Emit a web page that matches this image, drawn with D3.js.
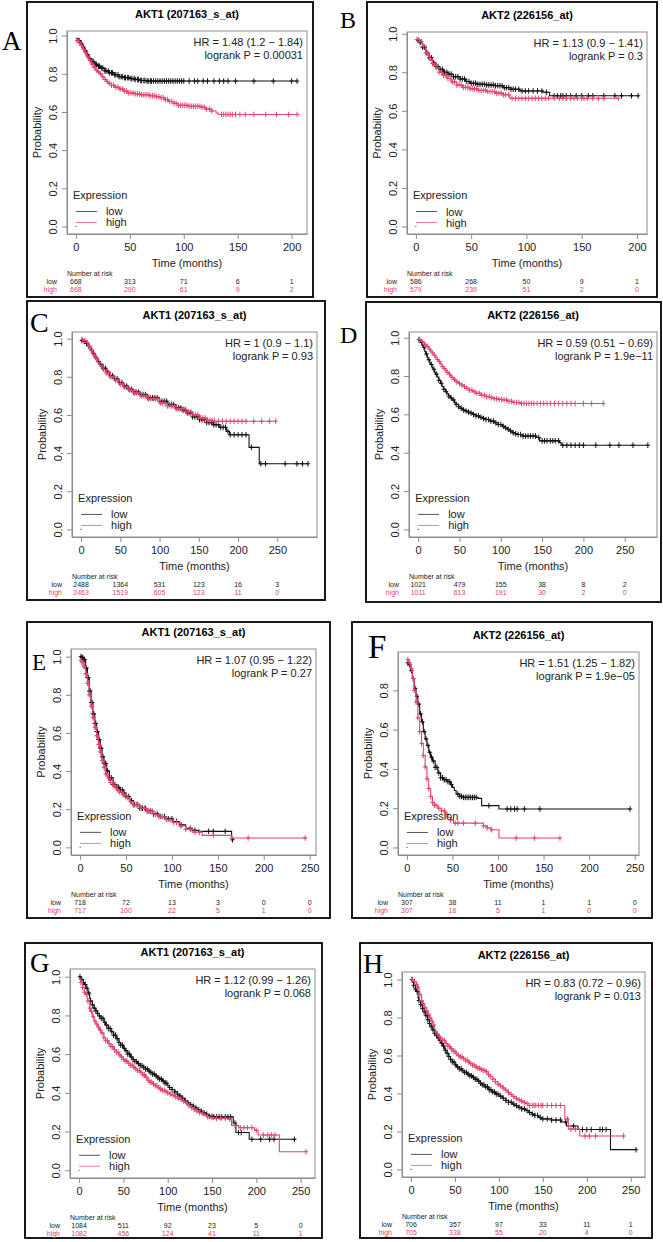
<!DOCTYPE html>
<html>
<head>
<meta charset="utf-8">
<script src="https://cdn.jsdelivr.net/npm/d3@7"></script>
<style>
  body { margin: 0; background: #fff; }
  svg { display: block; font-family: "Liberation Sans", Arial, sans-serif; }
</style>
</head>
<body>
<svg id="fig" width="663" height="1242"></svg>
<script>
// ---- shared labels / ticks ----
const akt1Title = 'AKT1 (207163_s_at)';
const akt2Title = 'AKT2 (226156_at)';
const ticks200 = [0, 50, 100, 150, 200];
const ticks250 = [0, 50, 100, 150, 200, 250];
const probTicks = [0, 0.2, 0.4, 0.6, 0.8, 1];
const probTicksShort = [0, 0.2, 0.4, 0.6, 0.8];

// ---- A ----
const aLow = [[0,0.985],[2,0.975],[4,0.96],[6,0.94],[8,0.92],[10,0.9],[12,0.88],[14,0.865],[17,0.85],[20,0.84],[23,0.83],[27,0.815],[31,0.805],[35,0.795],[40,0.785],[45,0.78],[50,0.775],[55,0.77],[60,0.765],[66,0.762],[205,0.762]];
const aHigh = [[0,0.975],[2,0.965],[4,0.95],[6,0.93],[8,0.91],[10,0.89],[12,0.87],[14,0.85],[16,0.835],[18,0.82],[20,0.81],[22,0.8],[24,0.785],[26,0.77],[28,0.76],[30,0.75],[33,0.74],[36,0.73],[40,0.72],[44,0.71],[48,0.7],[54,0.695],[60,0.69],[68,0.685],[74,0.68],[78,0.675],[82,0.665],[86,0.655],[91,0.645],[95,0.635],[104,0.63],[116,0.625],[120,0.615],[126,0.605],[130,0.595],[132,0.587],[206,0.587]];
const aLowCens = [3,5,7,9,11,13,15,16,18,19,21,22,24,25,27,28,30,31,33,34,36,37,39,40,42,43,45,46,48,49,51,52,54,55,57,58,60,61,63,64,66,67,69,70,72,74,76,78,80,82,84,86,88,90,92,94,96,98,100,105,110,113,118,122,128,133,137,141,148,165,183,200,205];
const aHighCens = [1,3,5,7,9,11,13,15,17,19,21,23,25,27,29,31,33,35,37,39,41,43,45,47,49,51,53,55,57,59,61,63,65,67,69,71,73,75,77,79,81,83,85,87,89,91,93,95,97,99,101,103,105,107,109,111,113,115,117,119,121,124,126,135,137,139,141,143,145,148,152,157,165,176,186,197,205];
const aRiskLow = [668, 313, 71, 6, 1];
const aRiskHigh = [668, 290, 61, 9, 2];

// ---- B ----
const bLow = [[0,0.966],[3,0.955],[6,0.93],[9,0.9],[12,0.875],[15,0.85],[18,0.83],[21,0.815],[25,0.8],[29,0.79],[34,0.777],[40,0.765],[45,0.752],[49,0.743],[55,0.738],[64,0.734],[72,0.73],[79,0.72],[86,0.712],[94,0.703],[115,0.696],[121,0.678],[201,0.678]];
const bHigh = [[0,0.97],[3,0.96],[6,0.935],[9,0.9],[12,0.87],[15,0.845],[18,0.825],[21,0.8],[24,0.785],[28,0.768],[32,0.75],[37,0.734],[42,0.722],[49,0.714],[56,0.706],[64,0.7],[72,0.692],[79,0.683],[85,0.665],[183,0.665]];
const bLowCens = [2,4,6,8,10,12,14,16,18,20,22,24,26,28,30,32,34,36,38,40,42,44,46,48,50,52,54,56,58,60,62,64,66,68,70,72,74,76,78,80,82,84,86,88,90,93,96,99,102,106,110,114,118,125,128,131,133,136,140,145,150,156,160,170,180,186,195,201];
const bHighCens = [1,3,5,7,9,11,13,15,17,19,21,23,25,27,29,31,33,35,37,39,41,43,45,47,49,51,53,55,57,59,61,63,65,67,69,71,73,75,77,79,81,84,87,90,93,96,99,102,105,108,111,114,117,120,125,130,133,136,140,143,146,150,152,155,160,165,170,183];
const bRiskLow = [586, 268, 50, 9, 1];
const bRiskHigh = [579, 239, 51, 2, 0];

// ---- C ----
const cLow = [[0,0.99],[3,0.985],[6,0.975],[9,0.96],[12,0.94],[15,0.92],[18,0.9],[21,0.88],[24,0.865],[28,0.845],[32,0.825],[37,0.805],[42,0.79],[48,0.77],[54,0.751],[60,0.735],[67,0.72],[75,0.707],[85,0.69],[100,0.672],[110,0.655],[121,0.637],[128,0.625],[134,0.61],[142,0.59],[151,0.575],[160,0.56],[168,0.549],[176,0.535],[185,0.514],[189,0.496],[214,0.43],[227,0.344],[289,0.344]];
const cHigh = [[0,0.995],[3,0.99],[6,0.98],[9,0.96],[12,0.94],[15,0.915],[18,0.895],[21,0.875],[24,0.858],[28,0.838],[32,0.82],[37,0.8],[42,0.782],[48,0.762],[54,0.745],[60,0.73],[67,0.715],[75,0.7],[85,0.685],[100,0.662],[110,0.647],[121,0.632],[134,0.617],[142,0.6],[151,0.584],[160,0.572],[168,0.567],[248,0.567]];
const cLowCens = [1,4,7,10,13,16,19,22,25,28,31,34,37,40,43,46,49,52,55,58,61,64,67,70,73,76,79,82,85,88,91,94,97,100,103,106,109,112,115,118,121,124,127,130,133,136,139,142,145,148,151,154,157,160,163,166,169,172,175,178,181,184,187,190,195,200,205,210,217,229,235,260,275,282,289];
const cHighCens = [2,5,8,11,14,17,20,23,26,29,32,35,38,41,44,47,50,53,56,59,62,65,68,71,74,77,80,83,86,89,92,95,98,101,104,107,110,113,116,119,122,125,128,131,134,137,140,143,146,149,152,155,158,161,164,167,170,175,180,185,190,195,200,205,210,220,230,240,248];
const cRiskLow = [2488, 1364, 531, 123, 16, 3];
const cRiskHigh = [2463, 1519, 605, 123, 11, 0];

// ---- D ----
const dLow = [[0,0.99],[2,0.982],[3,0.975],[5,0.96],[6,0.95],[8,0.928],[9,0.915],[11,0.895],[12,0.885],[14,0.868],[15,0.86],[17,0.843],[18,0.835],[20,0.818],[21,0.81],[23,0.794],[25,0.778],[27,0.762],[29,0.745],[31,0.731],[33,0.718],[35,0.706],[37,0.695],[39,0.685],[41,0.675],[44,0.661],[46,0.652],[49,0.64],[51,0.632],[54,0.623],[56,0.618],[59,0.612],[62,0.607],[66,0.6],[70,0.592],[74,0.585],[78,0.579],[82,0.573],[87,0.565],[92,0.556],[97,0.547],[102,0.538],[105,0.53],[108,0.522],[111,0.513],[114,0.504],[117,0.499],[120,0.495],[126,0.487],[143,0.479],[147,0.462],[171,0.453],[173,0.439],[278,0.439]];
const dHigh = [[0,0.99],[4,0.98],[6,0.973],[8,0.965],[10,0.955],[13,0.94],[15,0.93],[17,0.92],[19,0.908],[21,0.897],[23,0.886],[25,0.875],[27,0.862],[29,0.85],[31,0.839],[33,0.829],[35,0.82],[37,0.81],[39,0.801],[41,0.792],[43,0.783],[45,0.775],[47,0.768],[49,0.761],[52,0.753],[55,0.745],[58,0.736],[62,0.726],[66,0.718],[70,0.71],[76,0.7],[82,0.692],[87,0.687],[92,0.682],[97,0.678],[102,0.675],[108,0.668],[114,0.662],[125,0.657],[224,0.657]];
const dLowCens = [1,4,7,10,13,16,19,22,25,28,31,34,37,40,43,46,49,52,55,58,61,64,67,70,73,76,79,82,85,88,91,94,97,100,103,106,109,112,115,118,121,124,127,130,133,136,139,142,146,150,153,156,160,163,166,170,175,180,185,190,195,200,215,232,243,260,278];
const dHighCens = [2,5,8,11,14,17,20,23,26,29,32,35,38,41,44,47,50,53,56,59,62,65,68,71,74,77,80,83,86,89,92,95,98,101,104,107,110,113,116,119,122,125,128,131,134,137,140,144,148,152,156,160,165,170,175,180,185,190,200,210,224];
const dRiskLow = [1021, 479, 155, 38, 8, 2];
const dRiskHigh = [1011, 613, 191, 30, 2, 0];

// ---- E ----
const eLow = [[0,1],[2,0.995],[4,0.985],[6,0.94],[8,0.89],[10,0.82],[12,0.76],[14,0.7],[16,0.65],[18,0.607],[20,0.565],[22,0.52],[24,0.475],[26,0.44],[29,0.4],[32,0.365],[36,0.33],[40,0.315],[43,0.302],[47,0.285],[50,0.267],[54,0.245],[58,0.225],[65,0.205],[72,0.19],[80,0.175],[86,0.162],[93,0.15],[101,0.136],[108,0.118],[115,0.1],[122,0.09],[129,0.084],[165,0.04],[167,0.04]];
const eHigh = [[0,0.98],[2,0.97],[4,0.95],[6,0.91],[8,0.86],[10,0.8],[12,0.74],[14,0.68],[16,0.63],[18,0.585],[20,0.54],[22,0.5],[24,0.455],[26,0.42],[28,0.385],[30,0.363],[33,0.34],[36,0.32],[40,0.3],[43,0.29],[47,0.275],[50,0.26],[54,0.24],[58,0.222],[65,0.205],[72,0.19],[80,0.172],[86,0.16],[93,0.145],[101,0.13],[108,0.112],[115,0.095],[122,0.08],[133,0.063],[165,0.049],[247,0.049]];
const eLowCens = [1,2,3,4,5,6,7,8,9,10,11,12,13,14,15,16,17,18,19,20,21,22,23,24,25,26,27,28,29,30,32,34,36,38,40,42,44,46,48,50,53,56,59,62,65,68,71,74,77,80,84,88,92,96,100,105,110,120,125,140,145,158,166];
const eHighCens = [1,2,3,4,5,6,7,8,9,10,11,12,13,14,15,16,17,18,19,20,21,22,23,24,25,26,27,28,29,31,33,35,37,39,41,43,45,47,49,52,55,58,61,64,67,70,73,76,79,82,86,90,94,98,102,105,110,115,120,125,130,145,165,183,245];
const eRiskLow = [718, 72, 13, 3, 0, 0];
const eRiskHigh = [717, 100, 22, 5, 1, 0];

// ---- F ----
const fLow = [[0,0.94],[2,0.93],[4,0.9],[6,0.86],[8,0.81],[10,0.77],[12,0.73],[14,0.68],[16,0.64],[18,0.59],[20,0.553],[22,0.52],[24,0.485],[26,0.46],[28,0.44],[31,0.408],[34,0.38],[37,0.355],[40,0.345],[45,0.335],[48,0.32],[50,0.306],[52,0.29],[54,0.272],[58,0.26],[62,0.255],[78,0.25],[82,0.213],[101,0.196],[245,0.196]];
const fHigh = [[0,0.957],[2,0.94],[4,0.91],[6,0.86],[8,0.8],[10,0.74],[12,0.66],[14,0.59],[16,0.53],[18,0.468],[20,0.41],[22,0.349],[24,0.3],[26,0.26],[28,0.23],[30,0.215],[34,0.2],[38,0.187],[42,0.17],[45,0.153],[48,0.14],[51,0.124],[84,0.11],[88,0.1],[92,0.09],[101,0.048],[168,0.048]];
const fLowCens = [1,3,5,7,9,11,13,15,17,19,21,23,25,27,29,31,33,35,37,39,41,43,45,47,49,56,58,60,62,64,66,68,70,72,74,76,90,110,114,118,121,129,146,245];
const fHighCens = [1,3,5,7,8,10,12,14,16,18,20,22,24,26,28,30,32,35,38,41,44,48,53,56,62,75,84,88,93,120,140,168];
const fRiskLow = [307, 38, 11, 1, 1, 0];
const fRiskHigh = [307, 16, 5, 1, 0, 0];

// ---- G ----
const gLow = [[0,1],[2,0.99],[3,0.985],[5,0.97],[6,0.96],[8,0.94],[10,0.916],[12,0.888],[13,0.875],[15,0.855],[17,0.838],[19,0.823],[21,0.81],[23,0.797],[25,0.785],[28,0.765],[30,0.75],[33,0.733],[36,0.716],[39,0.698],[42,0.68],[45,0.66],[47,0.646],[50,0.63],[52,0.618],[55,0.6],[58,0.585],[61,0.572],[63,0.562],[66,0.551],[69,0.541],[72,0.532],[75,0.523],[78,0.513],[80,0.506],[83,0.497],[86,0.488],[89,0.478],[91,0.471],[94,0.461],[97,0.45],[100,0.437],[102,0.428],[105,0.417],[108,0.405],[111,0.393],[113,0.384],[116,0.372],[119,0.36],[122,0.348],[124,0.34],[127,0.331],[130,0.322],[133,0.313],[136,0.305],[139,0.297],[142,0.29],[145,0.283],[147,0.279],[152,0.276],[174,0.244],[177,0.195],[192,0.16],[244,0.16]];
const gHigh = [[0,0.99],[2,0.97],[4,0.944],[6,0.92],[7,0.91],[9,0.886],[10,0.874],[12,0.838],[13,0.82],[15,0.793],[17,0.77],[19,0.755],[21,0.74],[23,0.724],[25,0.709],[28,0.685],[30,0.67],[33,0.654],[36,0.639],[39,0.624],[42,0.61],[45,0.596],[47,0.586],[50,0.573],[52,0.565],[55,0.553],[58,0.543],[61,0.532],[63,0.525],[66,0.515],[69,0.506],[72,0.493],[75,0.48],[78,0.465],[80,0.455],[83,0.446],[86,0.437],[89,0.427],[91,0.42],[94,0.413],[97,0.407],[100,0.4],[102,0.394],[105,0.387],[108,0.38],[111,0.373],[113,0.367],[116,0.358],[119,0.35],[122,0.34],[124,0.333],[127,0.324],[130,0.315],[133,0.306],[136,0.298],[139,0.291],[142,0.285],[145,0.277],[147,0.272],[152,0.268],[169,0.264],[172,0.232],[180,0.22],[198,0.206],[202,0.182],[226,0.096],[256,0.096]];
const gLowCens = [1,3,5,7,9,11,13,15,17,19,21,23,25,27,29,31,33,35,37,39,41,43,45,47,49,51,53,55,57,59,61,63,65,67,69,71,73,75,77,79,81,83,85,87,89,91,93,95,97,99,102,105,108,111,114,117,120,123,126,129,132,135,138,141,144,147,150,152,155,158,161,165,168,171,176,180,183,195,205,215,220,243];
const gHighCens = [2,4,6,8,10,12,14,16,18,20,22,24,26,28,30,32,34,36,38,40,42,44,46,48,50,52,54,56,58,60,62,64,66,68,70,72,74,76,78,80,82,84,86,88,90,92,94,96,98,100,103,106,109,112,115,118,121,124,127,130,133,136,140,145,150,155,160,165,170,176,182,186,190,195,200,208,213,217,221,256];
const gRiskLow = [1084, 511, 92, 23, 5, 0];
const gRiskHigh = [1082, 456, 124, 41, 11, 1];

// ---- H ----
const hLow = [[0,1],[2,0.985],[3,0.97],[5,0.95],[6,0.937],[8,0.905],[9,0.89],[11,0.868],[13,0.848],[15,0.83],[17,0.81],[19,0.789],[21,0.769],[23,0.752],[25,0.735],[27,0.716],[28,0.707],[30,0.693],[32,0.68],[34,0.665],[36,0.65],[38,0.635],[39,0.628],[41,0.612],[43,0.595],[45,0.58],[47,0.566],[50,0.55],[52,0.54],[55,0.53],[58,0.52],[61,0.511],[64,0.502],[67,0.493],[70,0.485],[73,0.475],[76,0.465],[79,0.454],[81,0.446],[84,0.435],[88,0.42],[92,0.408],[96,0.397],[100,0.386],[104,0.375],[108,0.363],[111,0.354],[115,0.344],[118,0.336],[122,0.327],[126,0.319],[130,0.31],[134,0.3],[138,0.291],[141,0.284],[145,0.274],[148,0.266],[160,0.26],[171,0.25],[177,0.229],[190,0.21],[227,0.104],[256,0.104]];
const hHigh = [[0,1],[4,0.99],[6,0.975],[7.5,0.96],[9,0.94],[10,0.92],[12,0.89],[13,0.873],[15,0.853],[17,0.835],[19,0.817],[21,0.799],[23,0.78],[25,0.76],[27,0.737],[28,0.725],[30,0.712],[32,0.7],[34,0.69],[36,0.68],[39,0.663],[42,0.648],[45,0.635],[48,0.622],[51,0.61],[54,0.6],[56,0.593],[59,0.584],[62,0.575],[65,0.565],[67,0.558],[70,0.549],[73,0.54],[76,0.533],[79,0.527],[82,0.521],[85,0.515],[88,0.5],[90,0.49],[93,0.476],[96,0.462],[99,0.449],[101,0.44],[104,0.429],[107,0.418],[110,0.405],[112,0.395],[115,0.384],[118,0.374],[121,0.367],[124,0.36],[127,0.353],[130,0.347],[133,0.337],[175,0.266],[179,0.212],[192,0.176],[242,0.176]];
const hLowCens = [1,3,5,7,9,11,13,15,17,19,21,23,25,27,29,31,33,35,37,39,41,43,45,47,49,51,53,55,57,59,61,63,65,67,69,71,73,75,77,79,81,83,85,87,89,91,93,95,97,99,102,105,108,111,114,117,120,123,126,129,132,135,138,141,144,147,150,155,160,165,170,176,185,195,200,205,215,218,222,256];
const hHighCens = [2,4,6,8,10,12,14,16,18,20,22,24,26,28,30,32,34,36,38,40,42,44,46,48,50,52,54,56,58,60,62,64,66,68,70,72,74,76,78,80,82,84,86,88,90,93,96,99,102,105,108,111,114,117,120,123,126,129,132,135,138,140,142,145,148,150,155,160,165,170,178,182,187,198,203,210,242];
const hRiskLow = [706, 357, 97, 33, 11, 1];
const hRiskHigh = [705, 338, 55, 20, 4, 0];

// ---- panel table: data refs + layout (frame / plot box / letter) ----
const panels = [
  { letter: 'A', letterPos: [2, 50, 27], frame: [27, 2, 313, 297], plot: [67, 31, 307, 234],
    title: akt1Title, hr: 'HR = 1.48 (1.2 \u2212 1.84)', p: 'logrank P = 0.00031',
    xTicks: ticks200, yTicks: probTicks, low: aLow, high: aHigh, lowCens: aLowCens, highCens: aHighCens, riskLow: aRiskLow, riskHigh: aRiskHigh },
  { letter: 'B', letterPos: [340, 28, 24], frame: [367, 2, 657, 297], plot: [407, 32, 647, 234],
    title: akt2Title, hr: 'HR = 1.13 (0.9 \u2212 1.41)', p: 'logrank P = 0.3',
    xTicks: ticks200, yTicks: probTicks, low: bLow, high: bHigh, lowCens: bLowCens, highCens: bHighCens, riskLow: bRiskLow, riskHigh: bRiskHigh },
  { letter: 'C', letterPos: [30, 332, 28], frame: [27, 301, 325, 600], plot: [72, 332, 317, 537],
    title: akt1Title, hr: 'HR = 1 (0.9 \u2212 1.1)', p: 'logrank P = 0.93',
    xTicks: ticks250, yTicks: probTicks, low: cLow, high: cHigh, lowCens: cLowCens, highCens: cHighCens, riskLow: cRiskLow, riskHigh: cRiskHigh },
  { letter: 'D', letterPos: [340, 343, 24], frame: [366, 302, 661, 602], plot: [409, 332, 657, 537],
    title: akt2Title, hr: 'HR = 0.59 (0.51 \u2212 0.69)', p: 'logrank P = 1.9e\u221211',
    xTicks: ticks250, yTicks: probTicks, low: dLow, high: dHigh, lowCens: dLowCens, highCens: dHighCens, riskLow: dRiskLow, riskHigh: dRiskHigh },
  { letter: 'E', letterPos: [32, 670, 23], frame: [27, 622, 330, 918], plot: [71, 649, 316, 855],
    title: akt1Title, hr: 'HR = 1.07 (0.95 \u2212 1.22)', p: 'logrank P = 0.27',
    xTicks: ticks250, yTicks: probTicks, low: eLow, high: eHigh, lowCens: eLowCens, highCens: eHighCens, riskLow: eRiskLow, riskHigh: eRiskHigh },
  { letter: 'F', letterPos: [368, 658, 33], frame: [352, 622, 652, 918], plot: [398, 652, 639, 855],
    title: akt2Title, hr: 'HR = 1.51 (1.25 \u2212 1.82)', p: 'logrank P = 1.9e\u221205',
    xTicks: ticks250, yTicks: probTicksShort, low: fLow, high: fHigh, lowCens: fLowCens, highCens: fHighCens, riskLow: fRiskLow, riskHigh: fRiskHigh },
  { letter: 'G', letterPos: [30, 972, 27], frame: [25, 943, 322, 1238], plot: [70, 969, 315, 1178],
    title: akt1Title, hr: 'HR = 1.12 (0.99 \u2212 1.26)', p: 'logrank P = 0.068',
    xTicks: ticks250, yTicks: probTicks, low: gLow, high: gHigh, lowCens: gLowCens, highCens: gHighCens, riskLow: gRiskLow, riskHigh: gRiskHigh },
  { letter: 'H', letterPos: [363, 973, 28], frame: [360, 943, 652, 1238], plot: [402, 972, 645, 1177],
    title: akt2Title, hr: 'HR = 0.83 (0.72 \u2212 0.96)', p: 'logrank P = 0.013',
    xTicks: ticks250, yTicks: probTicks, low: hLow, high: hHigh, lowCens: hLowCens, highCens: hHighCens, riskLow: hRiskLow, riskHigh: hRiskHigh }
];

const RED = '#e4456d';
const BLACK = '#111';
const AXIS_GREY = '#8c8c8c';

const svg = d3.select('#fig');
svg.append('rect').attr('width', 663).attr('height', 1242).attr('fill', '#fff');

panels.forEach(drawPanel);

function drawPanel(p) {
  const [L, T, R, B] = p.plot;
  // R-style 4% padding around the data range, y always includes 0
  const tMax = d3.max([p.low, p.high], s => s[s.length - 1][0]);
  const sMax = d3.max([p.low, p.high], s => s[0][1]);
  const x = d3.scaleLinear().domain([-0.04 * tMax, 1.04 * tMax]).range([L, R]);
  const y = d3.scaleLinear().domain([-0.04 * sMax, 1.04 * sMax]).range([B, T]);

  const g = svg.append('g');

  // outer frame
  const [fl, ft, fr, fb] = p.frame;
  g.append('rect')
    .attr('x', fl).attr('y', ft)
    .attr('width', fr - fl).attr('height', fb - ft)
    .attr('fill', 'none').attr('stroke', '#000').attr('stroke-width', 1.8);

  // panel letter
  g.append('text')
    .attr('x', p.letterPos[0]).attr('y', p.letterPos[1])
    .attr('font-family', '"Liberation Serif", "Times New Roman", serif')
    .attr('font-size', p.letterPos[2])
    .text(p.letter);

  // title
  g.append('text')
    .attr('x', (L + R) / 2).attr('y', T - 13)
    .attr('text-anchor', 'middle')
    .attr('font-size', 11).attr('font-weight', 'bold')
    .text(p.title);

  // axes
  const xAxis = g.append('g')
    .attr('transform', `translate(0,${B})`)
    .call(d3.axisBottom(x).tickValues(p.xTicks).tickSize(5).tickSizeOuter(0).tickPadding(4).tickFormat(d3.format('d')));
  const yAxis = g.append('g')
    .attr('transform', `translate(${L},0)`)
    .call(d3.axisLeft(y).tickValues(p.yTicks).tickSize(5).tickSizeOuter(0).tickFormat(d3.format('.1f')));
  [xAxis, yAxis].forEach(a => {
    a.selectAll('path, line').attr('stroke', AXIS_GREY);
    a.selectAll('text').attr('fill', '#222').attr('font-size', 11)
      .attr('font-family', '"Liberation Sans", Arial, sans-serif');
  });
  yAxis.selectAll('text')
    .attr('x', null).attr('dy', null)
    .attr('text-anchor', 'middle')
    .attr('transform', 'translate(-10,0) rotate(-90)');

  // plot box
  g.append('rect')
    .attr('x', L).attr('y', T).attr('width', R - L).attr('height', B - T)
    .attr('fill', 'none').attr('stroke', AXIS_GREY).attr('stroke-width', 1);

  // axis titles
  g.append('text')
    .attr('x', (L + R) / 2).attr('y', B + 33)
    .attr('text-anchor', 'middle').attr('font-size', 11).attr('fill', '#222')
    .text('Time (months)');
  g.append('text')
    .attr('transform', `translate(${L - 26},${(T + B) / 2}) rotate(-90)`)
    .attr('text-anchor', 'middle').attr('font-size', 11).attr('fill', '#222')
    .text('Probability');

  // HR / logrank
  g.append('text')
    .attr('x', R - 4).attr('y', T + 15)
    .attr('text-anchor', 'end').attr('font-size', 11).attr('fill', '#222')
    .text(p.hr);
  g.append('text')
    .attr('x', R - 4).attr('y', T + 28)
    .attr('text-anchor', 'end').attr('font-size', 11).attr('fill', '#222')
    .text(p.p);

  // KM curves, low first, high on top
  const line = d3.line().x(d => x(d[0])).y(d => y(d[1])).curve(d3.curveStepAfter);
  const bis = d3.bisector(d => d[0]).right;
  const series = [
    { pts: p.low, cens: p.lowCens, color: BLACK },
    { pts: p.high, cens: p.highCens, color: RED }
  ];
  series.forEach(s => {
    g.append('path')
      .attr('d', line(s.pts))
      .attr('fill', 'none').attr('stroke', s.color).attr('stroke-width', 1.1);
    const marks = s.cens.map(t => {
      const i = Math.max(0, bis(s.pts, t) - 1);
      return [x(t), y(s.pts[i][1])];
    });
    g.append('path')
      .attr('d', marks.map(([cx, cy]) => `M${cx - 2.2},${cy}h4.4M${cx},${cy - 2.8}v5.6`).join(''))
      .attr('fill', 'none').attr('stroke', s.color).attr('stroke-width', 1);
  });

  // the invisible anchor point at (0,0)
  g.append('circle')
    .attr('cx', x(0)).attr('cy', y(0)).attr('r', 0.6).attr('fill', '#333');

  // legend
  const x0 = x(0), y0 = y(0);
  g.append('text')
    .attr('x', x0 - 3).attr('y', y0 - 27.5)
    .attr('font-size', 11).attr('fill', '#222')
    .text('Expression');
  [['low', '#555', y0 - 15], ['high', '#f07a95', y0 - 4]].forEach(([lab, col, ly]) => {
    g.append('line')
      .attr('x1', x0).attr('x2', x0 + 21).attr('y1', ly).attr('y2', ly)
      .attr('stroke', col).attr('stroke-width', 1);
    g.append('text')
      .attr('x', x0 + 30).attr('y', ly + 4)
      .attr('font-size', 11).attr('fill', '#222')
      .text(lab);
  });

  // number at risk table
  g.append('text')
    .attr('x', L).attr('y', B + 42)
    .attr('font-size', 7).attr('fill', '#222')
    .text('Number at risk');
  [['low', p.riskLow, '#222', B + 50], ['high', p.riskHigh, RED, B + 58]].forEach(([lab, vals, col, ry]) => {
    g.append('text')
      .attr('x', L - 10).attr('y', ry)
      .attr('text-anchor', 'end').attr('font-size', 7).attr('fill', col)
      .text(lab);
    g.selectAll(null)
      .data(vals)
      .enter()
      .append('text')
      .attr('x', (d, i) => x(p.xTicks[i]))
      .attr('y', ry)
      .attr('text-anchor', 'middle').attr('font-size', 7).attr('fill', col)
      .text(d => d);
  });
}
</script>
</body>
</html>
